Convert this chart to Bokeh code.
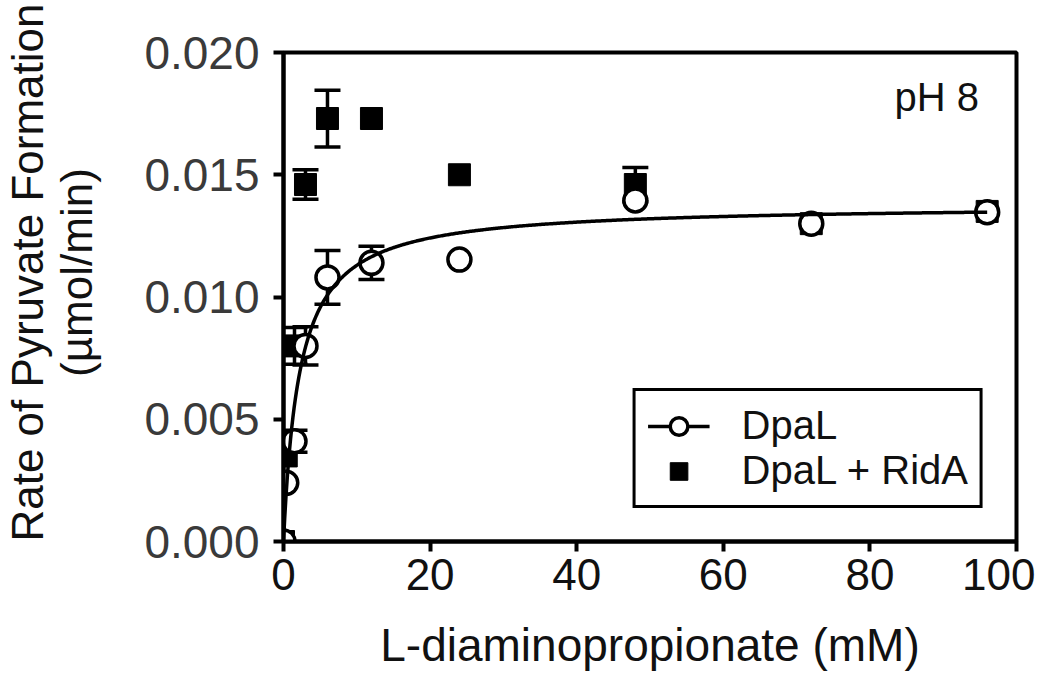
import numpy as np
from bokeh.plotting import figure
from bokeh.models import (Range1d, ColumnDataSource, Whisker, TeeHead, Legend,
                          LegendItem, Label, NumeralTickFormatter, FixedTicker)
from bokeh.embed import file_html
from bokeh.resources import INLINE

# ---- data ----
conc = [0, 0.375, 1.5, 3, 6, 12, 24, 48, 72, 96]              # mM
dpal_rate = [0.0, 0.0024, 0.0041, 0.0080, 0.0108, 0.0114, 0.01153, 0.01395, 0.0130, 0.01347]
dpal_err = [0.0, 0.0, 0.00045, 0.00078, 0.0011, 0.00068, 0.0, 0.0, 0.0, 0.0]
rida_rate = [0.0, 0.0035, 0.0080, 0.0146, 0.0173, 0.0173, 0.0150, 0.0146, 0.0130, 0.0135]
rida_err = [0.0, 0.0, 0.00075, 0.0006, 0.00116, 0.0, 0.0, 0.0007, 0.0, 0.0]
# Michaelis-Menten fit for DpaL
vmax = 0.01378
km = 2.2
x_ticks = [0, 20, 40, 60, 80, 100]
y_ticks = [0.000, 0.005, 0.010, 0.015, 0.020]

FONT = "Liberation Sans"
NB = "\u00a0" * 4  # keeps the rotated y title slightly above the frame centre

p = figure(frame_width=733, frame_height=489,
           x_range=Range1d(x_ticks[0], x_ticks[-1]), y_range=Range1d(y_ticks[0], y_ticks[-1]),
           output_backend="svg", toolbar_location=None,
           min_border_left=282, min_border_right=19,
           min_border_top=52, min_border_bottom=126)
p.outline_line_color = "black"
p.outline_line_width = 4
p.outline_line_alpha = 1.0
p.grid.visible = False
p.background_fill_color = "white"
p.border_fill_color = "white"

# axes
for ax in (p.xaxis[0], p.yaxis[0]):
    ax.axis_line_width = 4
    ax.axis_line_color = "black"
    ax.major_tick_line_width = 4
    ax.major_tick_line_color = "black"
    ax.major_tick_out = 10
    ax.major_tick_in = 0
    ax.minor_tick_line_color = None
    ax.major_label_text_font = FONT
    ax.axis_label_text_font = FONT
    ax.axis_label_text_font_style = "normal"
    ax.axis_label_text_color = "#111111"

p.xaxis.ticker = FixedTicker(ticks=x_ticks)
p.yaxis.ticker = FixedTicker(ticks=y_ticks)
p.yaxis.formatter = NumeralTickFormatter(format="0.000")
p.xaxis.major_label_text_font_size = "44px"
p.yaxis.major_label_text_font_size = "46px"
p.xaxis.major_label_text_color = "#111111"
p.yaxis.major_label_text_color = "#3a3a3a"
p.xaxis.major_label_standoff = 7
p.yaxis.major_label_standoff = 14
p.xaxis.axis_label = "L-diaminopropionate (mM)"
p.xaxis.axis_label_text_font_size = "46px"
p.xaxis.axis_label_standoff = 26
p.yaxis.axis_label = NB + "Rate of Pyruvate Formation\n" + NB + "(µmol/min)"
p.yaxis.axis_label_text_font_size = "44px"
p.yaxis.axis_label_text_line_height = 1.0
p.yaxis.axis_label_standoff = 40

# error bars
def err_source(rate, err):
    xs, lo, hi = [], [], []
    for c, r, e in zip(conc, rate, err):
        if e > 0:
            xs.append(c); lo.append(r - e); hi.append(r + e)
    return ColumnDataSource(dict(x=xs, lower=lo, upper=hi))

for rate, err in ((rida_rate, rida_err), (dpal_rate, dpal_err)):
    w = Whisker(source=err_source(rate, err), base="x", upper="upper", lower="lower",
                line_width=3.5, line_color="black",
                upper_head=TeeHead(size=26, line_width=3.5, line_color="black"),
                lower_head=TeeHead(size=26, line_width=3.5, line_color="black"))
    p.add_layout(w)

sq = p.scatter(conc, rida_rate, marker="square", size=22,
               fill_color="black", line_color="black", line_width=1)
circ = p.scatter(conc, dpal_rate, marker="circle", size=23,
                 fill_color="white", line_color="black", line_width=3.5)

xf = np.linspace(conc[0], conc[-1], 600)
yf = vmax * xf / (km + xf)
curve = p.line(xf, yf, line_color="black", line_width=3.5)

legend = Legend(items=[LegendItem(label="DpaL", renderers=[curve, circ]),
                       LegendItem(label="DpaL + RidA", renderers=[sq])],
                location="bottom_right", margin=33,
                border_line_color="black", border_line_width=3.5, border_line_alpha=1.0,
                label_text_font=FONT, label_text_font_size="40px",
                label_text_color="#111111",
                glyph_width=62, glyph_height=44, label_standoff=32,
                padding=12, spacing=0)
p.add_layout(legend)

p.add_layout(Label(x=94.9, y=0.0182, text="pH 8", text_align="right",
                   text_baseline="alphabetic", text_font=FONT,
                   text_font_size="40px", text_color="#111111"))

open("out.html", "w").write(file_html(p, INLINE))
